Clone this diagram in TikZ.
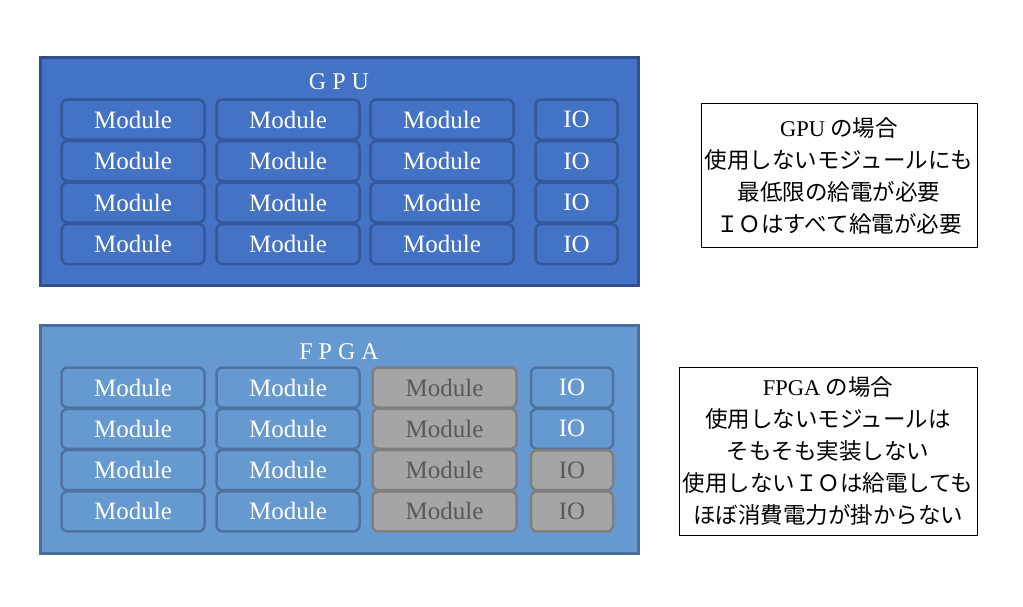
\documentclass[tikz,border=0pt]{standalone}
\usepackage{fontspec}
\setmainfont{Liberation Serif}
\newfontfamily\jp{Noto Sans CJK JP}
\usepackage{xcolor}
\definecolor{gpublue}{HTML}{4472C4}
\definecolor{gpuline}{HTML}{2F528F}
\definecolor{modline}{HTML}{34589A}
\definecolor{fpgablue}{HTML}{6699CF}
\definecolor{fpgaline}{HTML}{4A6F9C}
\definecolor{fmodline}{HTML}{4E73A1}
\definecolor{offgray}{HTML}{A5A5A5}
\definecolor{offline}{HTML}{7F7F7F}
\definecolor{offtext}{HTML}{595959}
\begin{document}
\begin{tikzpicture}[x=1pt,y=-1pt,
  chip/.style={draw, line width=3pt, inner sep=0, outer sep=0},
  chiptitle/.style={text=white, font=\fontsize{24}{24}\selectfont},
  unit/.style={draw, rounded corners=6pt, line width=2.5pt, minimum height=40pt, inner sep=0, text=white, font=\fontsize{25}{25}\selectfont},
  gmod/.style={unit, fill=gpublue, draw=modline},
  fmod/.style={unit, fill=fpgablue, draw=fmodline},
  offmod/.style={unit, fill=offgray, draw=offline, text=offtext},
  note/.style={draw, line width=0.8pt, align=center, inner sep=0, font=\jp\fontsize{22.5}{32}\selectfont}]
\useasboundingbox (0,0) rectangle (1023,606);
\node[chip, fill=gpublue, draw=gpuline, minimum width=598, minimum height=228] (gpu) at (339,171) {};
\node[chiptitle] (gputitle) at (339,82) {G P U};
\foreach \r in {0,...,3} {
  \foreach \x/\c in {133/1,288/2,442/3}
    \node[gmod, minimum width=143] (gm-\r-\c) at (\x,{119.5+41.5*\r}) {Module};
  \node[gmod, minimum width=82] (gio-\r) at (576.5,{119.5+41.5*\r}) {IO};
}
\node[chip, fill=fpgablue, draw=fpgaline, minimum width=598, minimum height=228] (fpga) at (339,439) {};
\node[chiptitle] (fpgatitle) at (339,352) {F P G A};
\foreach \r in {0,...,3} {
  \foreach \x/\c in {133/1,288/2}
    \node[fmod, minimum width=143] (fm-\r-\c) at (\x,{387.5+41.3*\r}) {Module};
  \node[offmod, minimum width=144] (fm-\r-3) at (444.5,{387.5+41.3*\r}) {Module};
}
\foreach \r in {0,1}
  \node[fmod, minimum width=82] (fio-\r) at (572,{387.5+41.3*\r}) {IO};
\foreach \r in {2,3}
  \node[offmod, minimum width=82] (fio-\r) at (572,{387.5+41.3*\r}) {IO};
\node[note, minimum width=276, minimum height=144] (gpunote) at (839,175.5)
  {{\rmfamily GPU} の場合\\使用しないモジュールにも\\最低限の給電が必要\\ＩＯはすべて給電が必要};
\node[note, minimum width=298, minimum height=168] (fpganote) at (828,451)
  {{\rmfamily FPGA} の場合\\使用しないモジュールは\\そもそも実装しない\\使用しないＩＯは給電しても\\ほぼ消費電力が掛からない};
\end{tikzpicture}
\end{document}
